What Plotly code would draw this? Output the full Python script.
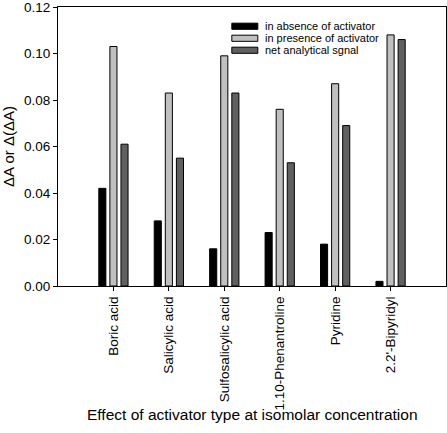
import plotly.graph_objects as go

categories = ["Boric acid", "Salicylic acid", "Sulfosalicylic acid",
              "1.10-Phenantroline", "Pyridine", "2.2'-Bipyridyl"]
absence = [0.042, 0.028, 0.016, 0.023, 0.018, 0.002]
presence = [0.103, 0.083, 0.099, 0.076, 0.087, 0.108]
net_signal = [0.061, 0.055, 0.083, 0.053, 0.069, 0.106]
series_names = ["in absence of activator", "in presence of activator", "net analytical sgnal"]
series_colors = ["#000000", "#c0c0c0", "#606060"]
y_ticks = [0.0, 0.02, 0.04, 0.06, 0.08, 0.10, 0.12]

xpos = list(range(1, len(categories) + 1))

fig = go.Figure()
for name, vals, col in zip(series_names, [absence, presence, net_signal], series_colors):
    fig.add_trace(go.Bar(x=xpos, y=vals, name=name, marker_color=col,
                         marker_line_color="black", marker_line_width=1,
                         showlegend=False))

# legend drawn by hand so the swatches are wide like the original
for i, (name, col) in enumerate(zip(series_names, series_colors)):
    yc = 0.931 - i * 0.043
    fig.add_shape(type="rect", xref="paper", yref="paper",
                  x0=0.448, x1=0.515, y0=yc - 0.011, y1=yc + 0.011,
                  fillcolor=col, line=dict(color="black", width=1))
    fig.add_annotation(xref="paper", yref="paper", x=0.529, y=yc, text=name,
                       showarrow=False, xanchor="left", yanchor="middle",
                       font=dict(size=11, color="black"))

# x title as an annotation to sit a bit closer to the tick labels
fig.add_annotation(xref="paper", yref="paper", x=0.5, y=-0.462,
                   text="Effect of activator type at isomolar concentration",
                   showarrow=False, xanchor="center", yanchor="middle",
                   font=dict(size=15.5, color="black"))

fig.update_layout(
    width=447, height=433,
    margin=dict(l=58, r=1, t=7, b=147),
    plot_bgcolor="white", paper_bgcolor="white",
    font=dict(family="Liberation Sans, Arial", color="black", size=13.5),
    barmode="group", bargap=0.4, bargroupgap=0.36,
)
fig.update_xaxes(
    range=[0, 7], tickvals=xpos, ticktext=categories, tickangle=-90,
    showgrid=False, zeroline=False, showline=True, linecolor="black", linewidth=1,
    mirror=True, ticks="outside", ticklen=4, tickcolor="black",
)
fig.update_yaxes(
    range=[0, 0.12], tickvals=y_ticks, ticktext=[f"{v:.2f}" for v in y_ticks],
    ticklabeloverflow="allow",
    showgrid=False, zeroline=False, showline=True, linecolor="black", linewidth=1,
    mirror=True, ticks="outside", ticklen=4, tickcolor="black",
    title=dict(text="ΔA or Δ(ΔA)", font=dict(size=15), standoff=6),
)

fig.write_html("out.html", config={"displayModeBar": False},
               post_script="document.body.style.margin='0';")
